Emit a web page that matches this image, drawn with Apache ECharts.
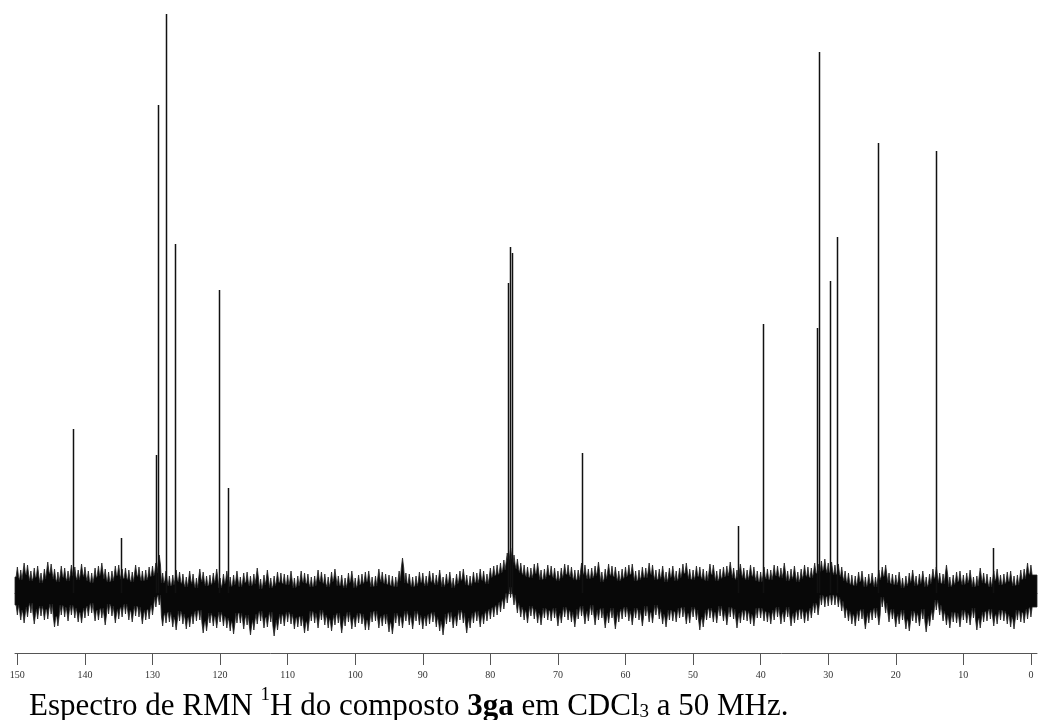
<!DOCTYPE html>
<html>
<head>
<meta charset="utf-8">
<script src="https://cdn.jsdelivr.net/npm/echarts@6/dist/echarts.min.js"></script>
<style>html,body{margin:0;padding:0;background:#fff;}#c{width:1039px;height:720px;}</style>
</head>
<body>
<div id="c"></div>
<script>
// ---- data (chemical shift in ppm, intensity in arbitrary units) ----
const X_MIN = -0.9, X_MAX = 150.35;
const MAJOR_TICKS = [0, 10, 20, 30, 40, 50, 60, 70, 80, 90, 100, 110, 120, 130, 140, 150];
const PEAK_PPM = [141.8, 134.6, 129.45, 129.25, 128.0, 126.7, 120.1, 118.77, 77.41, 77.07, 76.73, 66.37, 43.28, 39.67, 31.68, 31.38, 29.7, 28.67, 22.6, 14.06, 5.6];
const PEAK_H   = [164, 55, 138, 488, 579, 349, 303, 105, 310, 346, 340, 140, 67, 269, 265, 541, 312, 356, 450, 442, 45];
// noise spike tips, at whole ppm from 150 down to 0
const NOISE_UP = [
  26, 30, 22, 27, 24, 29, 21, 25, 28, 23,
  26, 20, 27, 24, 22, 28, 25, 21, 26, 23,
  27, 38, 22, 18, 21, 16, 19, 24, 17, 20,
  15, 22, 18, 16, 21, 19, 14, 23, 17, 20,
  18, 15, 22, 19, 17, 21, 16, 24, 18, 20,
  15, 19, 22, 17, 21, 18, 16, 35, 19, 17,
  20, 22, 18, 16, 21, 19, 24, 17, 20, 22,
  25, 28, 33, 45, 34, 28, 25, 30, 24, 27,
  22, 29, 26, 23, 28, 25, 31, 24, 27, 22,
  26, 29, 23, 25, 28, 24, 21, 27, 25, 30,
  23, 26, 22, 28, 24, 27, 25, 29, 23, 26,
  21, 24, 28, 25, 22, 27, 24, 26, 30, 32,
  30, 28, 26, 20, 17, 22, 19, 16, 26, 20,
  18, 15, 20, 17, 22, 19, 26, 19, 16, 21,
  18, 23, 17, 20, 16, 24, 19, 22, 18, 24,
  28
];
const NOISE_LO = [
  -22, -30, -20, -26, -27, -21, -33, -24, -22, -29,
  -25, -20, -27, -32, -23, -26, -21, -29, -24, -27,
  -22, -12, -30, -34, -28, -36, -31, -27, -38, -33,
  -29, -35, -41, -30, -32, -37, -28, -34, -43, -31,
  -29, -36, -33, -38, -30, -27, -35, -32, -40, -29,
  -34, -31, -37, -28, -33, -39, -30, -35, -32, -28,
  -36, -31, -34, -42, -29, -33, -30, -35, -28, -31,
  -26, -22, -16, -4, -20, -27, -23, -30, -25, -28,
  -33, -24, -29, -26, -31, -22, -27, -35, -25, -29,
  -24, -32, -27, -23, -30, -26, -34, -28, -25, -31,
  -24, -37, -27, -29, -23, -32, -26, -30, -28, -33,
  -25, -29, -27, -31, -24, -30, -26, -28, -20, -12,
  -13, -12, -18, -28, -33, -26, -30, -25, -14, -29,
  -34, -27, -38, -30, -26, -33, -17, -28, -35, -30,
  -27, -32, -37, -29, -26, -31, -28, -34, -27, -30,
  -24
];
// noise spike tips at half ppm, from 149.5 down to 0.5
const NOISE_UP_HALF = [
  23, 28, 25, 20, 31, 24, 27, 22, 26, 29,
  22, 25, 30, 21, 27, 24, 23, 28, 22, 26,
  30, 20, 17, 23, 19, 22, 15, 21, 18, 24,
  19, 16, 22, 20, 17, 25, 18, 15, 21, 19,
  22, 17, 20, 16, 23, 19, 21, 17, 15, 22,
  18, 21, 16, 24, 19, 17, 22, 20, 16, 21,
  17, 20, 23, 19, 15, 22, 18, 21, 24, 19,
  27, 30, 40, 38, 30, 26, 29, 23, 28, 25,
  25, 28, 23, 30, 24, 27, 21, 29, 26, 24,
  28, 22, 26, 30, 23, 27, 25, 22, 29, 24,
  27, 24, 29, 22, 26, 31, 23, 25, 28, 22,
  26, 23, 27, 30, 24, 21, 28, 25, 29, 34,
  31, 29, 22, 18, 21, 16, 20, 23, 28, 19,
  21, 17, 23, 19, 16, 24, 20, 28, 18, 22,
  20, 16, 25, 19, 22, 18, 21, 17, 23, 30
];
const NOISE_LO_HALF = [
  -27, -24, -31, -23, -26, -34, -22, -28, -25, -30,
  -23, -28, -25, -21, -30, -24, -27, -23, -31, -26,
  -14, -33, -29, -37, -31, -34, -28, -40, -30, -35,
  -33, -38, -30, -36, -42, -31, -35, -29, -37, -33,
  -31, -34, -40, -28, -35, -32, -38, -30, -33, -36,
  -30, -37, -29, -35, -31, -41, -33, -28, -36, -32,
  -33, -29, -38, -31, -35, -27, -40, -30, -34, -28,
  -24, -19, -10, -12, -24, -30, -26, -32, -27, -25,
  -30, -27, -34, -23, -28, -32, -25, -30, -36, -26,
  -28, -25, -33, -29, -22, -31, -27, -29, -24, -30,
  -27, -34, -25, -30, -28, -24, -35, -27, -31, -25,
  -28, -31, -24, -29, -33, -27, -30, -25, -22, -14,
  -12, -14, -25, -31, -28, -36, -27, -32, -20, -26,
  -31, -36, -28, -33, -39, -27, -22, -32, -29, -34,
  -30, -25, -35, -28, -33, -27, -31, -36, -29, -26
];
const NOISE_START = 150;
const SPIKE_DEPTH = 10;    // spike tips stand this far beyond the dense core
const SPIKE_HALF = 0.18;   // half width of a spike, ppm

const chart = echarts.init(document.getElementById('c'), null, {renderer: 'canvas'});
const minorTicks = [];
for (let v = 0; v <= 150; v++) minorTicks.push(v);

function tips(whole, half) {
  const out = [];
  for (let i = 0; i < whole.length; i++) {
    out.push([NOISE_START - i, whole[i]]);
    if (i < half.length) out.push([NOISE_START - i - 0.5, half[i]]);
  }
  return out;
}

function edge(api, list, sign) {
  const pts = [];
  for (const [p, v] of list) {
    const core = v - sign * SPIKE_DEPTH;
    pts.push(api.coord([p + SPIKE_HALF, core]));
    pts.push(api.coord([p, v]));
    pts.push(api.coord([p - SPIKE_HALF, core]));
  }
  return pts;
}

function noisePoints(api) {
  const up = tips(NOISE_UP, NOISE_UP_HALF);
  const lo = tips(NOISE_LO, NOISE_LO_HALF);
  const n = up.length;
  let pts = [];
  pts.push(api.coord([X_MAX, up[0][1] - SPIKE_DEPTH]));
  pts = pts.concat(edge(api, up, 1));
  pts.push(api.coord([X_MIN, up[n - 1][1] - SPIKE_DEPTH]));
  pts.push(api.coord([X_MIN, lo[n - 1][1] + SPIKE_DEPTH]));
  pts = pts.concat(edge(api, lo, -1).reverse());
  pts.push(api.coord([X_MAX, lo[0][1] + SPIKE_DEPTH]));
  return pts;
}

const axisCommon = {
  type: 'value', min: X_MIN, max: X_MAX, inverse: true, position: 'bottom',
  splitLine: {show: false},
  axisLine: {show: true, lineStyle: {color: '#555', width: 1}}
};

const F = 'Liberation Serif';
chart.setOption({
  animation: false,
  backgroundColor: '#fff',
  grid: {left: 15, right: 2, top: 3, bottom: 67},
  title: {
    text: '{n|Espectro de RMN }{s|1}{n|H do composto }{b|3ga}{n| em CDCl}{d|3}{n| a 50 MHz.}',
    left: 24, top: 681,
    textStyle: {
      fontFamily: F, fontWeight: 'normal', fontSize: 31, color: '#000',
      rich: {
        n: {fontFamily: F, fontSize: 31, fontWeight: 'normal', color: '#000', lineHeight: 36, verticalAlign: 'bottom'},
        b: {fontFamily: F, fontSize: 31, fontWeight: 'bold', color: '#000', lineHeight: 36, verticalAlign: 'bottom'},
        s: {fontFamily: F, fontSize: 19, fontWeight: 'normal', color: '#000', lineHeight: 36, verticalAlign: 'top'},
        d: {fontFamily: F, fontSize: 19, fontWeight: 'normal', color: '#000', lineHeight: 28, verticalAlign: 'bottom'}
      }
    }
  },
  xAxis: [
    Object.assign({}, axisCommon, {
      axisTick: {show: true, length: 5, customValues: minorTicks, lineStyle: {color: '#555'}},
      axisLabel: {show: false}
    }),
    Object.assign({}, axisCommon, {
      axisTick: {show: true, length: 12, customValues: MAJOR_TICKS, lineStyle: {color: '#555'}},
      axisLabel: {show: true, customValues: MAJOR_TICKS, fontFamily: F, fontSize: 10, color: '#333', margin: 17}
    })
  ],
  yAxis: {type: 'value', min: -60, max: 590, show: false, splitLine: {show: false}},
  series: [
    {
      type: 'custom', name: 'noise', xAxisIndex: 0, yAxisIndex: 0, silent: true,
      data: [[NOISE_START, 0]],
      renderItem: function (params, api) {
        return {type: 'polygon', shape: {points: noisePoints(api)}, style: {fill: '#080808', stroke: '#222', lineWidth: 0.8}};
      }
    },
    {
      type: 'custom', name: 'peaks', xAxisIndex: 0, yAxisIndex: 0, silent: true,
      data: PEAK_PPM.map((p, i) => [p, PEAK_H[i]]),
      renderItem: function (params, api) {
        const a = api.coord([api.value(0), 0]);
        const b = api.coord([api.value(0), api.value(1)]);
        return {type: 'line', shape: {x1: Math.round(a[0]) + 0.5, y1: a[1], x2: Math.round(b[0]) + 0.5, y2: b[1]}, style: {stroke: '#111', lineWidth: 1.5}};
      }
    }
  ]
});
</script>
</body>
</html>
